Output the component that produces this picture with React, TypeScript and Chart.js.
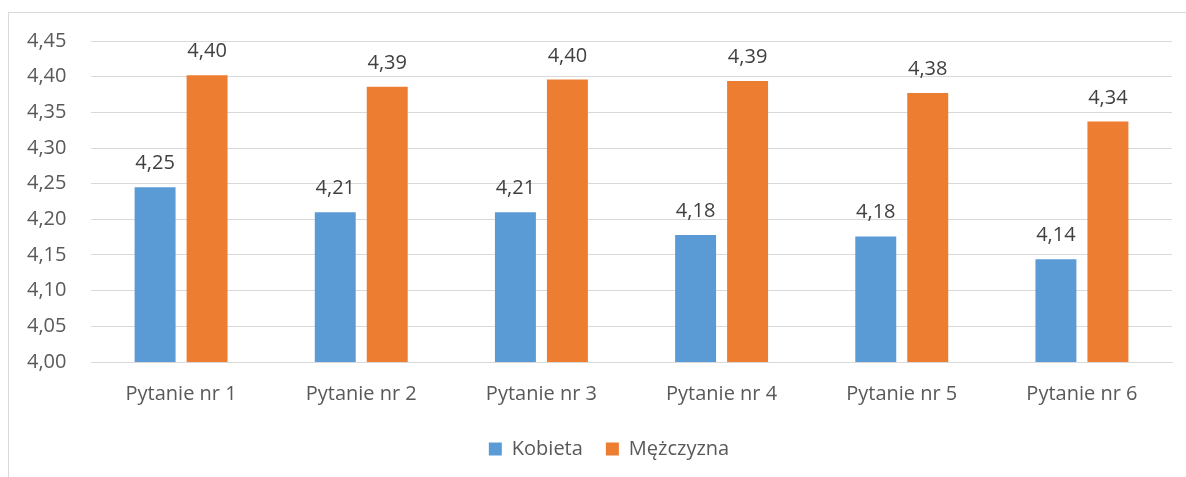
import React, { useEffect, useRef } from 'react';
import { Chart, registerables } from 'chart.js';

Chart.register(...registerables);

const categories = ['Pytanie nr 1', 'Pytanie nr 2', 'Pytanie nr 3', 'Pytanie nr 4', 'Pytanie nr 5', 'Pytanie nr 6'];
const seriesNames = ['Kobieta', 'Mężczyzna'];
const kobieta = [4.245, 4.21, 4.21, 4.178, 4.176, 4.144];
const mezczyzna = [4.402, 4.386, 4.396, 4.394, 4.377, 4.337];
const yMin = 4.0;
const yMax = 4.45;
const yStep = 0.05;

const FONT = "'Open Sans', sans-serif";
const AXIS_COLOR = '#595959';
const LABEL_COLOR = '#404040';
const GRID_COLOR = '#D9D9D9';
const COLORS = ['#5B9BD5', '#ED7D31'];

const fmt = (v: number) => v.toFixed(2).replace('.', ',');

const valueLabels = {
  id: 'valueLabels',
  afterDatasetsDraw(chart: any) {
    const ctx = chart.ctx;
    ctx.save();
    ctx.font = `20px ${FONT}`;
    ctx.fillStyle = LABEL_COLOR;
    ctx.textAlign = 'center';
    ctx.textBaseline = 'alphabetic';
    chart.data.datasets.forEach((ds: any, i: number) => {
      const meta = chart.getDatasetMeta(i);
      meta.data.forEach((el: any, j: number) => {
        ctx.fillText(fmt(ds.data[j]), el.x, el.y - 18);
      });
    });
    ctx.restore();
  },
};

export default function App() {
  const ref = useRef<HTMLCanvasElement | null>(null);

  useEffect(() => {
    if (!ref.current) return;
    const chart = new Chart(ref.current, {
      type: 'bar',
      data: {
        labels: categories,
        datasets: [
          { label: seriesNames[0], data: kobieta, backgroundColor: COLORS[0], categoryPercentage: 0.577, barPercentage: 0.788 },
          { label: seriesNames[1], data: mezczyzna, backgroundColor: COLORS[1], categoryPercentage: 0.577, barPercentage: 0.788 },
        ],
      },
      options: {
        animation: false,
        responsive: false,
        devicePixelRatio: 1,
        layout: { padding: { left: 18, right: 0, top: 28, bottom: 6 } },
        plugins: {
          legend: {
            position: 'bottom',
            labels: {
              boxWidth: 13,
              boxHeight: 13,
              padding: 23,
              color: AXIS_COLOR,
              font: { family: FONT, size: 20 },
            },
          },
          tooltip: { enabled: false },
        },
        scales: {
          x: {
            afterFit: (s: any) => { s.height = s.height - 10; },
            grid: { display: false, drawTicks: false },
            border: { display: true, color: GRID_COLOR, width: 1 },
            ticks: { color: AXIS_COLOR, font: { family: FONT, size: 20 }, padding: 20, maxRotation: 0 },
          },
          y: {
            min: yMin,
            max: yMax,
            afterFit: (s: any) => { s.width = 64; },
            grid: { color: GRID_COLOR, lineWidth: 1, drawTicks: false },
            border: { display: false },
            ticks: {
              stepSize: yStep,
              color: AXIS_COLOR,
              font: { family: FONT, size: 20 },
              padding: 0,
              crossAlign: 'far',
              callback: (v: any) => fmt(Number(v)),
            },
          },
          y2: {
            position: 'right',
            display: true,
            afterFit: (s: any) => { s.width = 19; },
            grid: { display: false, drawTicks: false },
            border: { display: false },
            ticks: { display: false },
          },
        },
      },
      plugins: [valueLabels],
    });
    return () => chart.destroy();
  }, []);

  return (
    <div
      style={{
        position: 'fixed',
        left: 8,
        top: 12,
        width: 1178,
        height: 465,
        overflow: 'hidden',
        borderLeft: '1px solid #D9D9D9',
        borderTop: '1px solid #D9D9D9',
        boxSizing: 'border-box',
        background: '#fff',
      }}
    >
      <canvas ref={ref} width={1182} height={462} style={{ display: 'block' }} />
    </div>
  );
}
